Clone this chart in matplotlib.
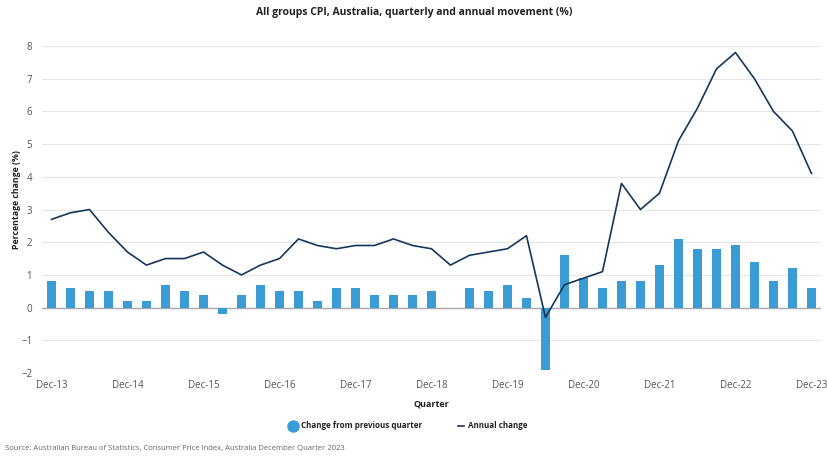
import matplotlib
matplotlib.use("Agg")
import matplotlib.pyplot as plt
from matplotlib.lines import Line2D
import numpy as np

plt.rcParams['font.family'] = ['Open Sans', 'DejaVu Sans']

quarters = []
for y in range(13, 24):
    for m in ["Mar", "Jun", "Sep", "Dec"]:
        quarters.append(f"{m}-{y}")
quarters = quarters[3:]  # Dec-13 .. Dec-23

quarterly_change = [0.8, 0.6, 0.5, 0.5, 0.2, 0.2, 0.7, 0.5, 0.4, -0.2,
                    0.4, 0.7, 0.5, 0.5, 0.2, 0.6, 0.6, 0.4, 0.4, 0.4,
                    0.5, 0.0, 0.6, 0.5, 0.7, 0.3, -1.9, 1.6, 0.9, 0.6,
                    0.8, 0.8, 1.3, 2.1, 1.8, 1.8, 1.9, 1.4, 0.8, 1.2, 0.6]
annual_change = [2.7, 2.9, 3.0, 2.3, 1.7, 1.3, 1.5, 1.5, 1.7, 1.3,
                 1.0, 1.3, 1.5, 2.1, 1.9, 1.8, 1.9, 1.9, 2.1, 1.9,
                 1.8, 1.3, 1.6, 1.7, 1.8, 2.2, -0.3, 0.7, 0.9, 1.1,
                 3.8, 3.0, 3.5, 5.1, 6.1, 7.3, 7.8, 7.0, 6.0, 5.4, 4.1]

bar_color = "#3A9BD5"
line_color = "#16365C"
text_gray = "#555555"

fig = plt.figure(figsize=(8.28, 4.62), dpi=100)
ax = fig.add_axes([0.0507, 0.1926, 0.9408, 0.7078])

x = np.arange(len(quarters))
ax.bar(x, quarterly_change, width=0.5, color=bar_color, zorder=3)
ax.plot(x, annual_change, color=line_color, linewidth=1.2, zorder=4)
ax.axhline(0, color="#aaaaaa", linewidth=1, zorder=2)

ax.set_xlim(-0.5, len(quarters) - 0.5)
ax.set_ylim(-2, 8)
ax.set_yticks(range(-2, 9))
ax.grid(axis='y', color="#e6e6e6", linewidth=0.8, zorder=0)
ax.set_axisbelow(True)

tick_idx = [i for i, q in enumerate(quarters) if q.startswith("Dec")]
ax.set_xticks(tick_idx)
ax.set_xticklabels([quarters[i] for i in tick_idx])
ax.tick_params(axis='both', length=0, labelsize=7, labelcolor=text_gray)
ax.tick_params(axis='x', pad=5)
ax.tick_params(axis='y', pad=7)
for s in ax.spines.values():
    s.set_visible(False)

ax.set_xlabel("Quarter", fontsize=6.5, fontweight='bold', color="#222222", labelpad=6)
ax.set_ylabel("Percentage change (%)", fontsize=6.3, fontweight='bold', color="#222222")
ax.yaxis.set_label_coords(-0.027, 0.53)

fig.text(0.5, 0.972, "All groups CPI, Australia, quarterly and annual movement (%)",
         ha='center', va='center', fontsize=7.5, fontweight='bold', color="#222222")

handles = [
    Line2D([0], [0], marker='o', color='none', markerfacecolor=bar_color,
           markeredgecolor=bar_color, markersize=8),
    Line2D([0], [0], color=line_color, linewidth=1.2),
]
leg = fig.legend(handles, ["Change from previous quarter", "Annual change"],
                 loc='center', bbox_to_anchor=(0.494, 0.078), ncol=2, frameon=False,
                 fontsize=5.8, handlelength=0.8, columnspacing=4.5, handletextpad=0.5)
for t in leg.get_texts():
    t.set_fontweight('bold')
    t.set_color("#222222")

fig.text(0.006, 0.03, "Source: Australian Bureau of Statistics, Consumer Price Index, Australia December Quarter 2023",
         ha='left', va='center', fontsize=5.5, color="#666666")

fig.savefig("out.png", dpi=100)
